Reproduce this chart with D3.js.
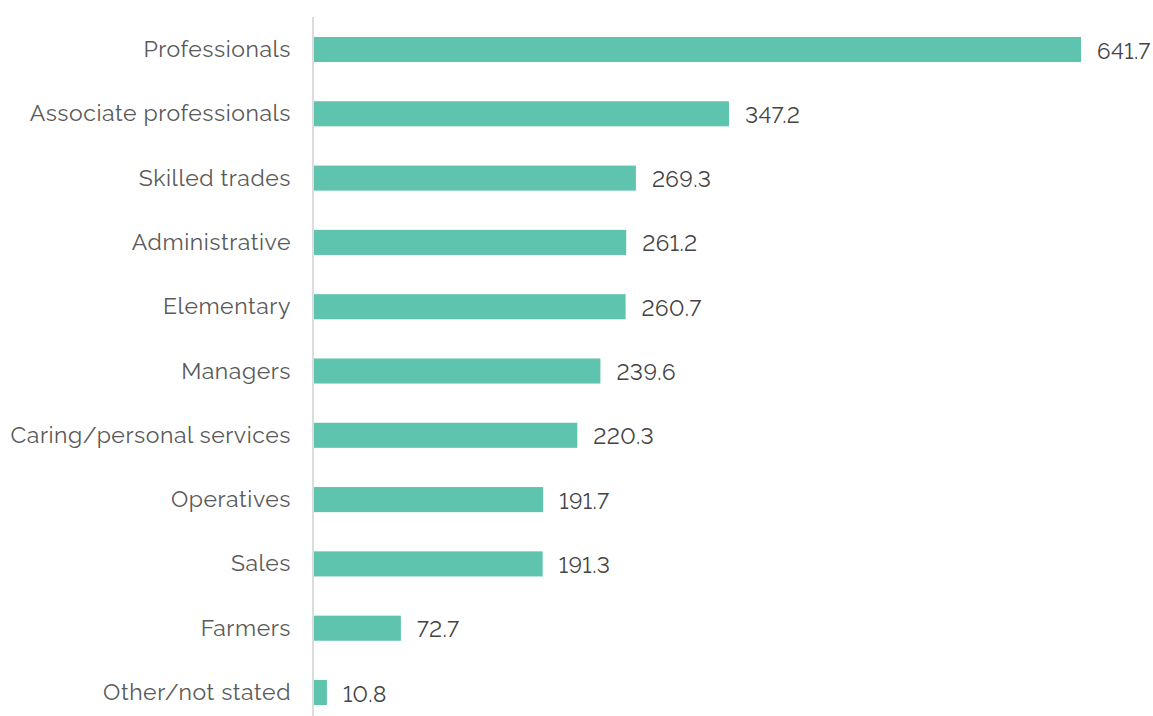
<!DOCTYPE html>
<html><head><meta charset="utf-8">
<script src="https://cdn.jsdelivr.net/npm/d3@7"></script>
<style>body{margin:0;background:#fff}svg{display:block}text{font-variant-numeric:lining-nums}</style>
</head><body>
<svg id="c" width="1153" height="716"></svg>
<script>
const categories = ["Professionals","Associate professionals","Skilled trades","Administrative","Elementary","Managers","Caring/personal services","Operatives","Sales","Farmers","Other/not stated"];
const values = [641.7,347.2,269.3,261.2,260.7,239.6,220.3,191.7,191.3,72.7,10.8];
const valueLabels = ["641.7","347.2","269.3","261.2","260.7","239.6","220.3","191.7","191.3","72.7","10.8"];

const svg = d3.select("#c");
const x = d3.scaleLinear().domain([0, 641.7]).range([314, 1081]);
const y = d3.scaleBand().domain(categories).range([17.35, 724.65]).paddingInner(0.61).paddingOuter(0.305);
const font = "Raleway, Lato, 'Open Sans', sans-serif";

svg.append("line").attr("x1",313).attr("x2",313).attr("y1",17).attr("y2",716)
  .attr("stroke","#dcdcdc").attr("stroke-width",2);

svg.selectAll("rect.bar").data(values).join("rect").attr("class","bar")
  .attr("x", x(0)).attr("y",(d,i)=>y(categories[i]))
  .attr("width", d=>x(d)-x(0)).attr("height", y.bandwidth())
  .attr("fill","#5ec4ad");

svg.selectAll("text.cat").data(categories).join("text").attr("class","cat")
  .attr("x",291).attr("y",d=>y(d)+y.bandwidth()/2).attr("dy","0.33em")
  .attr("text-anchor","end").attr("font-family",font).attr("font-size",23)
  .attr("letter-spacing","0.55px")
  .attr("fill","#5a5a5a").text(d=>d);

svg.selectAll("text.val").data(values).join("text").attr("class","val")
  .attr("x",d=>x(d)+16).attr("y",(d,i)=>y(categories[i])+y.bandwidth()/2).attr("dy","0.4em")
  .attr("font-family",font).attr("font-size",22.5)
  .attr("letter-spacing","0.4px")
  .attr("fill","#444").text((d,i)=>valueLabels[i]);
</script>
</body></html>
